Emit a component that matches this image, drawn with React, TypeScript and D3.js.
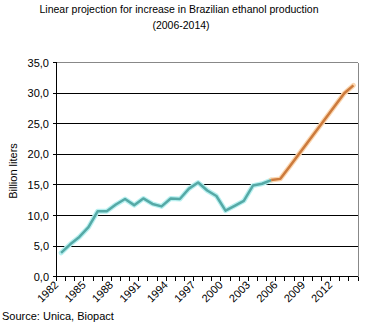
import React from "react";
import * as d3 from "d3";

const years: number[] = d3.range(1982, 2015);
const historicYears = [1982,1983,1984,1985,1986,1987,1988,1989,1990,1991,1992,1993,1994,1995,1996,1997,1998,1999,2000,2001,2002,2003,2004,2005];
const historicValues = [3.9,5.3,6.5,8.1,10.7,10.7,11.8,12.7,11.7,12.8,11.9,11.5,12.8,12.7,14.4,15.4,14.1,13.2,10.8,11.6,12.4,14.9,15.2,15.8];
const projectionYears = [2005,2006,2007,2008,2009,2010,2011,2012,2013,2014];
const projectionValues = [15.8,16.0,18.0,20.0,22.0,24.0,26.0,28.0,30.0,31.3];
const yTicks = [0,5,10,15,20,25,30,35];
const xLabelYears = [1982,1985,1988,1991,1994,1997,2000,2003,2006,2009,2012];

const W = 367, H = 325;
const left = 56.5, right = 358, top = 62.7, bottom = 276.7;
const font = "'Liberation Sans', Arial, sans-serif";

export default function App() {
  const x = d3.scaleBand<number>().domain(years).range([left, right]).padding(0);
  const y = d3.scaleLinear().domain([0, 35]).range([bottom, top]);
  const cx = (yr: number) => (x(yr) as number) + x.bandwidth() / 2;
  const line = d3.line<[number, number]>().x(d => cx(d[0])).y(d => y(d[1]));
  const hist = line(historicYears.map((yr, i) => [yr, historicValues[i]] as [number, number])) || "";
  const proj = line(projectionYears.map((yr, i) => [yr, projectionValues[i]] as [number, number])) || "";
  const fmt = (v: number) => d3.format(".1f")(v).replace(".", ",");
  const tickXs = years.map(yr => x(yr) as number).concat([right]);

  return (
    <svg width={W} height={H} style={{ position: "absolute", left: 0, top: 0, background: "#fff" }}>
      <rect x={0} y={0} width={W} height={H} fill="#fff" />
      <text x={179} y={13} textAnchor="middle" fontFamily={font} fontSize={10.5} fill="#000">
        Linear projection for increase in Brazilian ethanol production
      </text>
      <text x={181} y={29} textAnchor="middle" fontFamily={font} fontSize={10.5} fill="#000">(2006-2014)</text>

      {yTicks.filter(t => t > 0).map(t => (
        <line key={"g" + t} x1={left} x2={right} y1={y(t)} y2={y(t)} stroke={t === 35 ? "#888" : "#000"} strokeWidth={1} shapeRendering="crispEdges" />
      ))}
      <line x1={right} x2={right} y1={top} y2={bottom} stroke="#888" strokeWidth={1} shapeRendering="crispEdges" />
      <line x1={left} x2={left} y1={top} y2={bottom} stroke="#000" strokeWidth={1} shapeRendering="crispEdges" />
      <line x1={left} x2={right} y1={bottom} y2={bottom} stroke="#000" strokeWidth={1} shapeRendering="crispEdges" />
      {yTicks.map(t => (
        <g key={"yt" + t}>
          <line x1={left - 4} x2={left} y1={y(t)} y2={y(t)} stroke="#000" shapeRendering="crispEdges" />
          <text x={49} y={y(t) + 4} textAnchor="end" fontFamily={font} fontSize={11} fill="#000">{fmt(t)}</text>
        </g>
      ))}
      {tickXs.map((tx, i) => (
        <line key={"xt" + i} x1={tx} x2={tx} y1={bottom} y2={bottom + 4} stroke="#000" shapeRendering="crispEdges" />
      ))}
      {xLabelYears.map(yr => (
        <text key={"xl" + yr} transform={`translate(${cx(yr) - 2},${bottom + 9}) rotate(-45)`} textAnchor="end" fontFamily={font} fontSize={11} fill="#000">{yr}</text>
      ))}
      <text x={0} y={0} transform={`translate(17,171) rotate(-90)`} textAnchor="middle" fontFamily={font} fontSize={11} fill="#000">Billion liters</text>

      <path d={hist} fill="none" stroke="#b8f0f0" strokeWidth={5} strokeLinejoin="round" strokeLinecap="round" />
      <path d={proj} fill="none" stroke="#fbd6b0" strokeWidth={5} strokeLinejoin="round" strokeLinecap="round" />
      <path d={hist} fill="none" stroke="#55a9a6" strokeWidth={2.5} strokeLinejoin="round" />
      <path d={proj} fill="none" stroke="#cc7a3c" strokeWidth={2.5} strokeLinejoin="round" />

      <text x={2} y={320} fontFamily={font} fontSize={11} fill="#000">Source: Unica, Biopact</text>
    </svg>
  );
}
